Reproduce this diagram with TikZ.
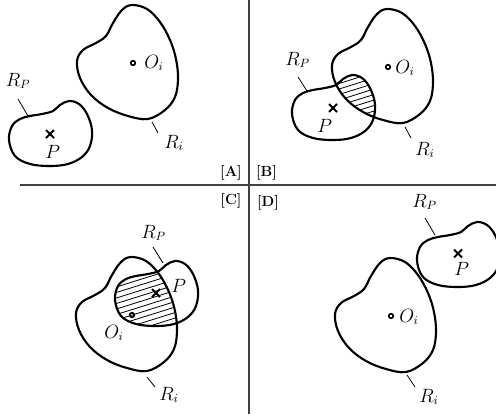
\documentclass[tikz,border=0pt]{standalone}
\newcommand\rishape{plot[smooth cycle, tension=0.6] coordinates {(-1,-58) (14,-54) (27,-41) (37,-23) (43,-4) (45,16) (42,34) (32,47) (15,56) (-5,53) (-25,45) (-42,32) (-53,15) (-56,-2) (-50,-13) (-37,-20) (-27,-27) (-20,-40) (-11,-53)}}
\newcommand\rpshape{plot[smooth cycle, tension=0.6] coordinates {(-41,6) (-38,-8) (-30,-15) (-20,-18) (-8,-20) (3,-23) (10,-29) (19,-33) (29,-30) (37,-20) (42,-4) (40,12) (32,23) (18,30) (0,32) (-20,30) (-35,22)}}
\tikzset{
  blob/.style={line width=1.6pt, line join=round},
  leader/.style={line width=0.6pt},
  divider/.style={line width=0.8pt, black!75},
  hatchline/.style={line width=0.6pt},
  lbl/.style={inner sep=0pt, anchor=base west, font=\fontsize{13.5}{16}\selectfont},
  tag/.style={inner sep=0pt, font=\bfseries\fontsize{11}{13}\selectfont},
  xmark/.style={line width=1.5pt},
  ocirc/.style={line width=1.2pt}
}
\newcommand\xat[1]{\draw[xmark] ($(#1)+(-4,-4)$) -- ($(#1)+(4,4)$); \draw[xmark] ($(#1)+(-4,4)$) -- ($(#1)+(4,-4)$);}
\usetikzlibrary{calc}
\begin{document}
\begin{tikzpicture}[x=0.75pt,y=-0.75pt]
\useasboundingbox (0,0) rectangle (496,414);
\begin{scope}
\clip (0,0) rectangle (496,414);
% dividers
\coordinate (vtop) at (249,0);
\coordinate (vbot) at (249,414);
\coordinate (hl) at (20,185);
\coordinate (hr) at (496,185);
\draw[divider] (vtop) -- (vbot);
\draw[divider] (hl) -- (hr);
\node[tag] (tA) at (231,173) {[A]};
\node[tag] (tB) at (266.5,173) {[B]};
\node[tag] (tC) at (231,201) {[C]};
\node[tag] (tD) at (268,203) {[D]};

% ---------- A ----------
\draw[blob, shift={(133,63)}] \rishape;
\draw[blob, shift={(50,134)}] \rpshape;
\coordinate (aX) at (50,134);
\xat{aX}
\coordinate (aO) at (133,63);
\draw[ocirc] (aO) circle (2.3);
\node[lbl] (aOl) at (144,68) {$O_i$};
\node[lbl] (aPl) at (45,158) {$P$};
\node[lbl] (aRPl) at (5.5,86) {$R_P$};
\node[lbl] (aRil) at (164,148) {$R_i$};
\coordinate (aRP1) at (18,99); \coordinate (aRP2) at (28,116);
\draw[leader] (aRP1) -- (aRP2);
\coordinate (aRi1) at (152,122); \coordinate (aRi2) at (158,133);
\draw[leader] (aRi1) -- (aRi2);

% ---------- B ----------
\begin{scope}
\clip[shift={(333,108)}] \rpshape;
\clip[shift={(388,67)}] \rishape;
\begin{scope}[shift={(355,95)}]
\foreach \k in {-14,...,14} \draw[hatchline] (-70,{\k*5.5+22}) -- (70,{\k*5.5-22});
\end{scope}
\end{scope}
\draw[blob, shift={(388,67)}] \rishape;
\draw[blob, shift={(333,108)}] \rpshape;
\coordinate (bX) at (333,108);
\xat{bX}
\coordinate (bO) at (388,67);
\draw[ocirc] (bO) circle (2.3);
\node[lbl] (bOl) at (395,73) {$O_i$};
\node[lbl] (bPl) at (317,132) {$P$};
\node[lbl] (bRPl) at (285,65) {$R_P$};
\node[lbl] (bRil) at (415,155) {$R_i$};
\coordinate (bRP1) at (298,77); \coordinate (bRP2) at (307,91);
\draw[leader] (bRP1) -- (bRP2);
\coordinate (bRi1) at (405,127); \coordinate (bRi2) at (411,138);
\draw[leader] (bRi1) -- (bRi2);

% ---------- C ----------
\begin{scope}
\clip[shift={(156,294)}] \rpshape;
\clip[shift={(132,315)}] \rishape;
\begin{scope}[shift={(145,300)}]
\foreach \k in {-14,...,14} \draw[hatchline] (-70,{\k*5.5+22}) -- (70,{\k*5.5-22});
\end{scope}
\end{scope}
\draw[blob, shift={(132,315)}] \rishape;
\draw[blob, shift={(156,294)}] \rpshape;
\coordinate (cX) at (156,293);
\xat{cX}
\coordinate (cO) at (132,315);
\draw[ocirc] (cO) circle (2.3);
\node[lbl] (cOl) at (104,338) {$O_i$};
\node[lbl] (cPl) at (171,292) {$P$};
\node[lbl] (cRPl) at (141,238) {$R_P$};
\node[lbl] (cRil) at (159,400) {$R_i$};
\coordinate (cRP1) at (153,247); \coordinate (cRP2) at (163,263);
\draw[leader] (cRP1) -- (cRP2);
\coordinate (cRi1) at (147,377); \coordinate (cRi2) at (155,387);
\draw[leader] (cRi1) -- (cRi2);

% ---------- D ----------
\draw[blob, shift={(391,316)}] \rishape;
\draw[blob, shift={(458,255)}] \rpshape;
\coordinate (dX) at (458,253.5);
\xat{dX}
\coordinate (dO) at (391,316);
\draw[ocirc] (dO) circle (2.3);
\node[lbl] (dOl) at (399,322) {$O_i$};
\node[lbl] (dPl) at (454,275) {$P$};
\node[lbl] (dRPl) at (412,207) {$R_P$};
\node[lbl] (dRil) at (419,402) {$R_i$};
\coordinate (dRP1) at (425,218); \coordinate (dRP2) at (435,235);
\draw[leader] (dRP1) -- (dRP2);
\coordinate (dRi1) at (407,375); \coordinate (dRi2) at (415,387);
\draw[leader] (dRi1) -- (dRi2);
\end{scope}
\end{tikzpicture}
\end{document}
